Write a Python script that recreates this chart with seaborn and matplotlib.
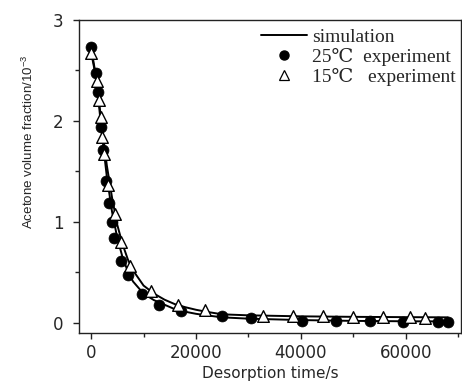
import numpy as np
import pandas as pd
import seaborn as sns
import matplotlib
matplotlib.use("Agg")
import matplotlib.pyplot as plt
from matplotlib.lines import Line2D
from matplotlib.ticker import MultipleLocator

# Desorption experiments (time in s, acetone volume fraction in 1e-3)
t_25 = [0, 950, 1330, 1900, 2290, 2860, 3430, 4000, 4380, 5710, 7050, 9710,
        12950, 17140, 24950, 30480, 40190, 46670, 53140, 59430, 66100, 68000]
y_25 = [2.73, 2.48, 2.29, 1.94, 1.71, 1.41, 1.19, 1.00, 0.84, 0.61, 0.47, 0.29,
        0.18, 0.115, 0.066, 0.045, 0.022, 0.015, 0.014, 0.013, 0.013, 0.013]

t_15 = [0, 1140, 1520, 1900, 2100, 2480, 3240, 4570, 5710, 7430, 11430, 16570,
        21710, 32760, 38480, 44190, 49900, 55620, 60760, 63620]
y_15 = [2.67, 2.40, 2.21, 2.04, 1.84, 1.67, 1.37, 1.08, 0.80, 0.56, 0.32, 0.175,
        0.125, 0.07, 0.068, 0.065, 0.062, 0.058, 0.055, 0.053]

# Simulated desorption curves
t_sim = [0, 1000, 2000, 3000, 4000, 5000, 6000, 7000, 8000, 10000, 12000, 14000,
         16000, 18000, 20000, 22000, 25000, 30000, 40000, 50000, 60000, 68000]
sim_25 = [2.73, 2.42, 1.90, 1.45, 1.10, 0.84, 0.65, 0.51, 0.41, 0.29, 0.225, 0.18,
          0.135, 0.11, 0.09, 0.075, 0.055, 0.042, 0.028, 0.020, 0.016, 0.015]
sim_15 = [2.68, 2.42, 1.98, 1.56, 1.24, 0.97, 0.78, 0.63, 0.52, 0.37, 0.29, 0.23,
          0.185, 0.155, 0.13, 0.11, 0.085, 0.075, 0.065, 0.060, 0.057, 0.055]

sim = pd.DataFrame({
    "t": t_sim * 2,
    "y": sim_25 + sim_15,
    "T": ["25"] * len(t_sim) + ["15"] * len(t_sim),
})
exp25 = pd.DataFrame({"t": t_25, "y": y_25})
exp15 = pd.DataFrame({"t": t_15, "y": y_15})

sns.set_style("ticks")
plt.rcParams["font.family"] = ["DejaVu Sans"]
plt.rcParams["mathtext.fontset"] = "custom"
plt.rcParams["mathtext.rm"] = "Liberation Sans"
plt.rcParams["mathtext.it"] = "Liberation Sans"

fig = plt.figure(figsize=(4.62, 3.81), dpi=100)
ax = fig.add_axes([79 / 462, 48 / 381, 382 / 462, 313 / 381])

sns.lineplot(data=sim, x="t", y="y", units="T", estimator=None, color="black",
             linewidth=1.4, ax=ax, legend=False, sort=False, zorder=2)
sns.scatterplot(data=exp25, x="t", y="y", ax=ax, marker="o", s=62,
                color="black", edgecolor="black", linewidth=0.5, zorder=3,
                legend=False)
sns.scatterplot(data=exp15, x="t", y="y", ax=ax, marker="^", s=70,
                color="white", edgecolor="black", linewidth=1.0, zorder=4,
                legend=False)

ax.set_xlim(-2300, 70500)
ax.set_ylim(-0.1, 3.0)
ax.xaxis.set_major_locator(MultipleLocator(20000))
ax.xaxis.set_minor_locator(MultipleLocator(10000))
ax.yaxis.set_major_locator(MultipleLocator(1))
ax.yaxis.set_minor_locator(MultipleLocator(0.5))

for s in ax.spines.values():
    s.set_visible(True)
    s.set_linewidth(1.0)
    s.set_color("#222222")

ax.tick_params(axis="both", which="both", direction="out", top=False,
               right=False, color="#222222", width=1.0)
ax.tick_params(axis="both", which="major", length=4, labelsize=12)
ax.tick_params(axis="both", which="minor", length=3)
ax.tick_params(axis="x", which="major", pad=4)
ax.tick_params(axis="y", which="major", pad=7)

ax.set_xlabel("Desorption time/s", fontsize=11, labelpad=3)
ax.set_ylabel("Acetone volume fraction/10$^{-3}$", fontsize=9.6,
              family=["Liberation Sans", "DejaVu Sans"])
ax.yaxis.set_label_coords(-0.113, 0.612)

handles = [
    Line2D([], [], color="black", linewidth=1.4),
    Line2D([], [], color="black", marker="o", linestyle="none",
           markersize=6.5),
    Line2D([], [], color="black", marker="^", markerfacecolor="white",
           markeredgewidth=0.9, linestyle="none", markersize=6.5),
]
labels = ["simulation", "25\u2103  experiment", "15\u2103   experiment"]
leg = ax.legend(handles, labels, loc="upper left",
                bbox_to_anchor=(0.465, 0.985), frameon=False,
                handlelength=2.4, handletextpad=0.25, labelspacing=0.1,
                borderaxespad=0, borderpad=0.2,
                prop={"family": ["Liberation Serif", "DejaVu Serif"],
                      "size": 14})

fig.savefig("out.png", dpi=100)
